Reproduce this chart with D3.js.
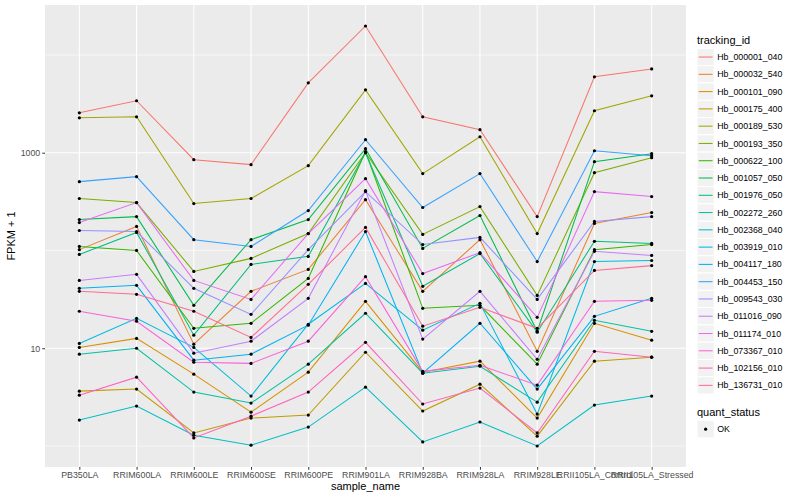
<!DOCTYPE html>
<html><head><meta charset="utf-8">
<script src="https://cdn.jsdelivr.net/npm/d3@7"></script>
<style>body{margin:0;background:#fff} text{font-family:"Liberation Sans",Arial,Helvetica,sans-serif}</style>
</head><body><svg id="c" width="800" height="500"></svg>
<script>
const samples = ["PB350LA","RRIM600LA","RRIM600LE","RRIM600SE","RRIM600PE","RRIM901LA","RRIM928BA","RRIM928LA","RRIM928LE","RRII105LA_Control","RRII105LA_Stressed"];
const trackingIds = ["Hb_000001_040","Hb_000032_540","Hb_000101_090","Hb_000175_400","Hb_000189_530","Hb_000193_350","Hb_000622_100","Hb_001057_050","Hb_001976_050","Hb_002272_260","Hb_002368_040","Hb_003919_010","Hb_004117_180","Hb_004453_150","Hb_009543_030","Hb_011016_090","Hb_011174_010","Hb_073367_010","Hb_102156_010","Hb_136731_010"];
const quantStatus = ["OK"];
const yTickValues = [10, 1000];
const yMinorValues = [1, 100, 10000];

// FPKM + 1 per sample (order of samples)
const Hb_000001_040 = [2560,3400,849,755,5180,19770,2330,1720,222,5970,7190];
const Hb_000032_540 = [102,176,11.0,38.2,64,331,38.2,129,9.3,189,244];
const Hb_000101_090 = [10.2,12.6,5.43,2.22,5.69,30.2,5.69,7.37,1.93,18.0,12.1];
const Hb_000175_400 = [3.64,3.82,1.36,1.93,2.07,9.1,2.28,4.29,1.26,7.37,8.1];
const Hb_000189_530 = [2276,2329,302,340,737,4395,611,1456,149,2685,3818];
const Hb_000193_350 = [340,309,61,83,149,1000,146,281,34.7,625,889];
const Hb_000622_100 = [110,100,16.0,18.0,51.8,1024,25.6,27.5,6.87,102,115];
const Hb_001057_050 = [207,222,27.5,129,207,1099,105,228,14.9,809,977];
const Hb_001976_050 = [91,153,13.6,72,87,1000,43,93,14.6,124,118];
const Hb_002272_260 = [8.7,10,3.56,2.75,6.87,22.8,5.56,6.55,2.81,19.3,14.9];
const Hb_002368_040 = [1.84,2.56,1.29,1.02,1.56,4.0,1.10,1.76,1.0,2.62,3.24];
const Hb_003919_010 = [11.2,20.2,10.2,3.24,17.6,46,15.3,28.8,2.12,77,79];
const Hb_004117_180 = [41,44,7.55,8.7,17.2,156,5.56,18.0,3.82,21.2,32.4];
const Hb_004453_150 = [506,569,129,110,256,1358,275,611,77,1047,931];
const Hb_009543_030 = [160,156,41,22.2,102,400,115,136,31.6,198,222];
const Hb_011016_090 = [49.4,57,8.9,11.8,32.4,409,12.4,38.2,7.7,98,89];
const Hb_011174_010 = [193,309,49.4,31.6,149,543,58,95,20.7,400,356];
const Hb_073367_010 = [23.9,18.9,7.2,7.0,11.8,54,5.8,6.7,4.19,30.2,30.9];
const Hb_102156_010 = [3.31,5.06,1.21,2.02,3.56,11.5,2.69,3.91,1.36,9.3,8.1];
const Hb_136731_010 = [38.2,35.6,23.9,12.9,45,172,16.8,26.2,16.0,62.5,70];

const seriesValues = [Hb_000001_040,Hb_000032_540,Hb_000101_090,Hb_000175_400,Hb_000189_530,Hb_000193_350,Hb_000622_100,Hb_001057_050,Hb_001976_050,Hb_002272_260,Hb_002368_040,Hb_003919_010,Hb_004117_180,Hb_004453_150,Hb_009543_030,Hb_011016_090,Hb_011174_010,Hb_073367_010,Hb_102156_010,Hb_136731_010];

const palette = ["#F8766D","#EA8331","#D89000","#C09B00","#A3A500","#7CAE00","#39B600","#00BB4E","#00BF7D","#00C1A3","#00BFC4","#00BAE0","#00B0F6","#35A2FF","#9590FF","#C77CFF","#E76BF3","#FA62DB","#FF62BC","#FF6C91"];

const series = trackingIds.map((id, i) => ({
  id, values: samples.map((s, j) => ({ sample: s, value: seriesValues[i][j], status: "OK" }))
}));

const W = 800, H = 500;
const m = { left: 45, right: 114, top: 5, bottom: 33 };
const pw = W - m.left - m.right, ph = H - m.top - m.bottom;

const svg = d3.select("#c");
const g = svg.append("g").attr("transform", `translate(${m.left},${m.top})`);

const x = d3.scalePoint().domain(samples).range([0, pw]).padding(0.6);
const allVals = seriesValues.flat();
const lo = Math.log10(d3.min(allVals)), hi = Math.log10(d3.max(allVals));
const ex = (hi - lo) * 0.05;
const y = d3.scaleLog().domain([Math.pow(10, lo - ex), Math.pow(10, hi + ex)]).range([ph, 0]);
const color = d3.scaleOrdinal().domain(trackingIds).range(palette);

g.append("rect").attr("width", pw).attr("height", ph).attr("fill", "#EBEBEB");
g.selectAll(".minor").data(yMinorValues.filter(v => v >= y.domain()[0] && v <= y.domain()[1]))
  .join("line").attr("x1", 0).attr("x2", pw).attr("y1", d => y(d)).attr("y2", d => y(d))
  .attr("stroke", "#fff").attr("stroke-width", 0.55);
g.selectAll(".hmaj").data(yTickValues).join("line")
  .attr("x1", 0).attr("x2", pw).attr("y1", d => y(d)).attr("y2", d => y(d))
  .attr("stroke", "#fff").attr("stroke-width", 1.1);
g.selectAll(".vmaj").data(samples).join("line")
  .attr("x1", d => x(d)).attr("x2", d => x(d)).attr("y1", 0).attr("y2", ph)
  .attr("stroke", "#fff").attr("stroke-width", 1.1);

const line = d3.line().x(d => x(d.sample)).y(d => y(d.value));
g.selectAll(".series").data(series).join("path")
  .attr("d", d => line(d.values)).attr("fill", "none")
  .attr("stroke", d => color(d.id)).attr("stroke-width", 1.05);

g.selectAll(".pt").data(series.flatMap(s => s.values)).join("circle")
  .attr("cx", d => x(d.sample)).attr("cy", d => y(d.value)).attr("r", 1.6).attr("fill", "#000");

// axes
const xa = g.append("g").attr("transform", `translate(0,${ph})`)
  .call(d3.axisBottom(x).tickSize(2.75).tickPadding(2));
const ya = g.append("g").call(d3.axisLeft(y).tickValues(yTickValues).tickFormat(d3.format("d")).tickSize(2.75).tickPadding(2));
[xa, ya].forEach(a => {
  a.select(".domain").remove();
  a.selectAll(".tick line").attr("stroke", "#333").attr("stroke-width", 1);
  a.selectAll(".tick text").attr("fill", "#4D4D4D").style("font-size", "8.8px");
});

svg.append("text").attr("x", m.left + pw / 2).attr("y", 490).attr("text-anchor", "middle")
  .style("font-size", "11px").attr("fill", "#000").text("sample_name");
svg.append("text").attr("transform", `translate(15,${m.top + ph / 2}) rotate(-90)`).attr("text-anchor", "middle")
  .style("font-size", "11px").attr("fill", "#000").text("FPKM + 1");

// legend
const lg = svg.append("g").attr("transform", "translate(697,0)");
const ks = 17.28;
lg.append("text").attr("x", 0).attr("y", 44).style("font-size", "11px").attr("fill", "#000").text("tracking_id");
const items = lg.selectAll(".li").data(trackingIds).join("g")
  .attr("transform", (d, i) => `translate(0,${48.4 + i * ks})`);
items.append("rect").attr("width", ks).attr("height", ks).attr("fill", "#F2F2F2").attr("stroke", "#fff").attr("stroke-width", 1);
items.append("line").attr("x1", 1.7).attr("x2", ks - 1.7).attr("y1", ks / 2).attr("y2", ks / 2)
  .attr("stroke", d => color(d)).attr("stroke-width", 1.05);
items.append("text").attr("x", ks + 3).attr("y", ks / 2).attr("dy", "0.35em")
  .style("font-size", "8.8px").attr("fill", "#000").text(d => d);

lg.append("text").attr("x", 0).attr("y", 416).style("font-size", "11px").attr("fill", "#000").text("quant_status");
const qi = lg.selectAll(".qi").data(quantStatus).join("g").attr("transform", (d, i) => `translate(0,${420.5 + i * ks})`);
qi.append("rect").attr("width", ks).attr("height", ks).attr("fill", "#F2F2F2").attr("stroke", "#fff");
qi.append("circle").attr("cx", ks / 2).attr("cy", ks / 2).attr("r", 1.6).attr("fill", "#000");
qi.append("text").attr("x", ks + 3).attr("y", ks / 2).attr("dy", "0.35em").style("font-size", "8.8px").attr("fill", "#000").text(d => d);
</script></body></html>
